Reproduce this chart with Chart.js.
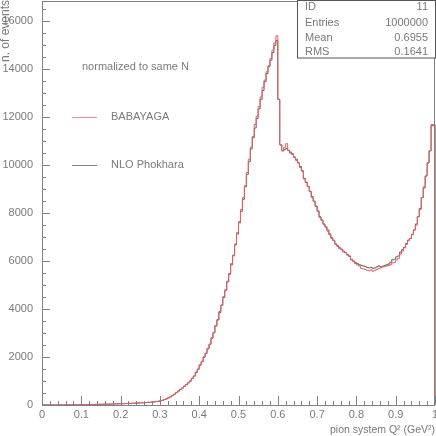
<!DOCTYPE html>
<html>
<head>
<meta charset="utf-8">
<script src="https://cdn.jsdelivr.net/npm/chart.js@4.4.1/dist/chart.umd.min.js"></script>
<style>
    html, body { margin: 0; padding: 0; background: #fff; }
    #wrap { width: 436px; height: 436px; }
</style>
</head>
<body>
<div id="wrap"><canvas id="qChart" width="436" height="436"></canvas></div>
<script>
// Histogram binning: 200 bins from 0 to 1
const xLow = 0;
const xHigh = 1;
const nBins = 200;

// NLO Phokhara (black)
const phokhara = [
    0, 0, 1, 1, 2, 2, 3, 3, 4, 5, 5, 6, 7, 8, 8, 9, 10, 11, 12, 13,
    14, 15, 16, 18, 19, 20, 22, 23, 25, 27, 28, 30, 32, 34, 36, 38, 41, 43, 46, 48,
    50, 53, 56, 60, 63, 67, 70, 74, 78, 82, 86, 90, 95, 100, 106, 112, 118, 126, 134, 145,
    160, 178, 200, 228, 262, 300, 345, 398, 455, 520, 585, 650, 710, 780, 850, 920, 1000, 1100, 1210, 1350,
    1500, 1660, 1820, 1990, 2160, 2340, 2540, 2780, 3030, 3290, 3560, 3860, 4170, 4480, 4800, 5130, 5480, 5850, 6250, 6680,
    7130, 7600, 8080, 8580, 9100, 9620, 10150, 10680, 11150, 11550, 11950, 12350, 12750, 13120, 13480, 13820, 14120, 14380, 14700, 15000,
    15200, 12750, 10850, 10600, 10650, 10700, 10620, 10550, 10480, 10330, 10250, 10100, 9950, 9750, 9450, 9280, 9120, 8900, 8700, 8500,
    8300, 8080, 7850, 7700, 7550, 7420, 7300, 7100, 6980, 6850, 6720, 6620, 6560, 6480, 6420, 6350, 6280, 6200, 6080, 6000,
    5950, 5900, 5850, 5830, 5800, 5780, 5740, 5720, 5740, 5700, 5720, 5760, 5800, 5760, 5790, 5820, 5850, 5880, 5950, 6060,
    6080, 6180, 6220, 6380, 6480, 6580, 6730, 6880, 6950, 7120, 7300, 7550, 7850, 8200, 8650, 9050, 9550, 10100, 10600, 11650
];

// BABAYAGA (red)
const babayaga = [
    0, 1, 1, 1, 2, 3, 3, 4, 4, 5, 6, 6, 7, 7, 8, 10, 10, 11, 12, 14,
    14, 15, 17, 18, 19, 21, 22, 24, 25, 26, 29, 30, 33, 34, 36, 39, 40, 44, 45, 49,
    51, 52, 57, 59, 64, 66, 71, 73, 79, 81, 87, 91, 94, 101, 105, 113, 117, 128, 133, 147,
    155, 180, 198, 230, 258, 305, 340, 400, 450, 525, 580, 655, 705, 790, 845, 930, 990, 1120, 1200, 1380,
    1480, 1680, 1800, 2010, 2150, 2370, 2520, 2800, 3010, 3320, 3540, 3900, 4150, 4520, 4780, 5170, 5450, 5900, 6220, 6720,
    7200, 7650, 8150, 8650, 9150, 9700, 10250, 10750, 11200, 11700, 12050, 12450, 12850, 13250, 13550, 13900, 14150, 14450, 14800, 15100,
    15400, 12750, 10850, 10600, 10750, 10900, 10620, 10500, 10450, 10350, 10200, 10100, 9900, 9780, 9420, 9300, 9100, 8920, 8650, 8500,
    8280, 8100, 7820, 7720, 7520, 7440, 7250, 7150, 6950, 6870, 6700, 6650, 6520, 6500, 6380, 6360, 6250, 6220, 6050, 6000,
    5900, 5850, 5800, 5700, 5680, 5650, 5620, 5600, 5640, 5580, 5620, 5650, 5700, 5720, 5760, 5780, 5800, 5820, 5850, 5930,
    5950, 6050, 6120, 6300, 6420, 6550, 6700, 6850, 6950, 7100, 7300, 7500, 7850, 8150, 8650, 9100, 9550, 10100, 10600, 11700
];

const xTickValues = [0, 0.1, 0.2, 0.3, 0.4, 0.5, 0.6, 0.7, 0.8, 0.9, 1];
const yTickValues = [0, 2000, 4000, 6000, 8000, 10000, 12000, 14000, 16000];
const yMax = 16850;

const statsRows = [
    ['ID', '11'],
    ['Entries', '1000000'],
    ['Mean', '0.6955'],
    ['RMS', '0.1641']
];
const seriesNames = ['BABAYAGA', 'NLO Phokhara'];
const noteText = 'normalized to same N';
const xTitle = 'pion system Q\u00B2 (GeV\u00B2)';
const yTitle = 'n. of events';

const FONT = '"Liberation Sans", Arial, Helvetica, sans-serif';
const TEXT_COLOR = '#7a7a7a';
const AXIS_COLOR = '#808080';
const RED = '#e66060';
const BLACK = '#606060';

// outline of a histogram: each bin starts at its low edge, closing at xHigh down to 0
function histPoints(values) {
    const w = (xHigh - xLow) / nBins;
    const pts = values.map((v, i) => ({ x: xLow + i * w, y: v }));
    pts.push({ x: xHigh, y: values[values.length - 1] });
    pts.push({ x: xHigh, y: 0 });
    return pts;
}

// frame, inward ticks, legend text and stats box
const rootStyle = {
    id: 'rootStyle',
    afterDraw(chart) {
        const ctx = chart.ctx;
        const area = chart.chartArea;
        const xs = chart.scales.x;
        const ys = chart.scales.y;
        ctx.save();
        ctx.strokeStyle = AXIS_COLOR;
        ctx.lineWidth = 1;

        // frame
        ctx.strokeRect(area.left + 0.5, area.top + 0.5, area.right - area.left - 1, area.bottom - area.top);

        // x ticks (major 0.1, minor 0.02) pointing up
        ctx.beginPath();
        for (let k = 0; k <= 50; k++) {
            const px = Math.round(xs.getPixelForValue(k * 0.02)) + 0.5;
            const len = (k % 5 === 0) ? 9 : 4;
            ctx.moveTo(px, area.bottom);
            ctx.lineTo(px, area.bottom - len);
        }
        // y ticks (major 2000, minor 500) pointing right
        for (let k = 0; k * 500 <= yMax; k++) {
            const py = Math.round(ys.getPixelForValue(k * 500)) + 0.5;
            const len = (k % 4 === 0) ? 8 : 4;
            ctx.moveTo(area.left, py);
            ctx.lineTo(area.left + len, py);
        }
        ctx.stroke();

        // legend / note
        ctx.fillStyle = TEXT_COLOR;
        ctx.font = '11px ' + FONT;
        ctx.textBaseline = 'middle';
        ctx.textAlign = 'left';
        ctx.fillText(noteText, 82, 67);

        const legendRows = [[seriesNames[0], '#f08a8a', 117], [seriesNames[1], '#808080', 165]];
        legendRows.forEach(([name, col, y]) => {
            ctx.strokeStyle = col;
            ctx.beginPath();
            ctx.moveTo(72, y + 0.5);
            ctx.lineTo(97, y + 0.5);
            ctx.stroke();
            ctx.fillText(name, 111, y);
        });

        // stats box
        ctx.fillStyle = '#ffffff';
        ctx.fillRect(297, 0, 139, 58);
        ctx.strokeStyle = '#555';
        ctx.strokeRect(297.5, 0.5, 138, 57.5);
        ctx.fillStyle = TEXT_COLOR;
        const rowY = [7, 23, 37.5, 51.5];
        statsRows.forEach(([k, v], i) => {
            ctx.textAlign = 'left';
            ctx.fillText(k, 305, rowY[i]);
            ctx.textAlign = 'right';
            ctx.fillText(v, 428, rowY[i]);
        });

        // axis titles
        ctx.font = '10.5px ' + FONT;
        ctx.textAlign = 'right';
        ctx.fillText(xTitle, 435, 430);
        ctx.save();
        ctx.font = '12px ' + FONT;
        ctx.translate(6, 0);
        ctx.rotate(-Math.PI / 2);
        ctx.textAlign = 'right';
        ctx.fillText(yTitle, 0, 0);
        ctx.restore();

        ctx.restore();
    }
};

function noOverhang(s) {
    s.paddingTop = 0;
    s.paddingBottom = 0;
    s.paddingLeft = 0;
    s.paddingRight = 0;
}

const ctx = document.getElementById('qChart');
new Chart(ctx, {
    type: 'line',
    data: {
        datasets: [
            {
                label: seriesNames[0],
                data: histPoints(babayaga),
                borderColor: RED,
                borderWidth: 1,
                stepped: 'after',
                pointRadius: 0,
                fill: false,
                clip: false
            },
            {
                label: seriesNames[1],
                data: histPoints(phokhara),
                borderColor: BLACK,
                borderWidth: 1,
                stepped: 'after',
                pointRadius: 0,
                fill: false,
                clip: false
            }
        ]
    },
    options: {
        responsive: false,
        animation: false,
        devicePixelRatio: 1,
        layout: { padding: { top: 1, right: 1, left: 0, bottom: 0 } },
        plugins: {
            legend: { display: false },
            tooltip: { enabled: false }
        },
        scales: {
            x: {
                type: 'linear',
                min: xLow,
                max: xHigh,
                afterFit: s => { s.height = 31; noOverhang(s); },
                afterBuildTicks: s => { s.ticks = xTickValues.map(v => ({ value: v })); },
                grid: { display: false, drawTicks: false },
                border: { display: false },
                ticks: {
                    color: TEXT_COLOR,
                    font: { family: FONT, size: 11 },
                    padding: 3,
                    maxRotation: 0,
                    callback: v => String(Math.round(v * 10) / 10)
                }
            },
            y: {
                type: 'linear',
                min: 0,
                max: yMax,
                afterFit: s => { s.width = 42; noOverhang(s); },
                afterBuildTicks: s => { s.ticks = yTickValues.map(v => ({ value: v })); },
                grid: { display: false, drawTicks: false },
                border: { display: false },
                ticks: {
                    color: TEXT_COLOR,
                    font: { family: FONT, size: 11 },
                    padding: 9,
                    callback: v => String(v)
                }
            }
        }
    },
    plugins: [rootStyle]
});
</script>
</body>
</html>
